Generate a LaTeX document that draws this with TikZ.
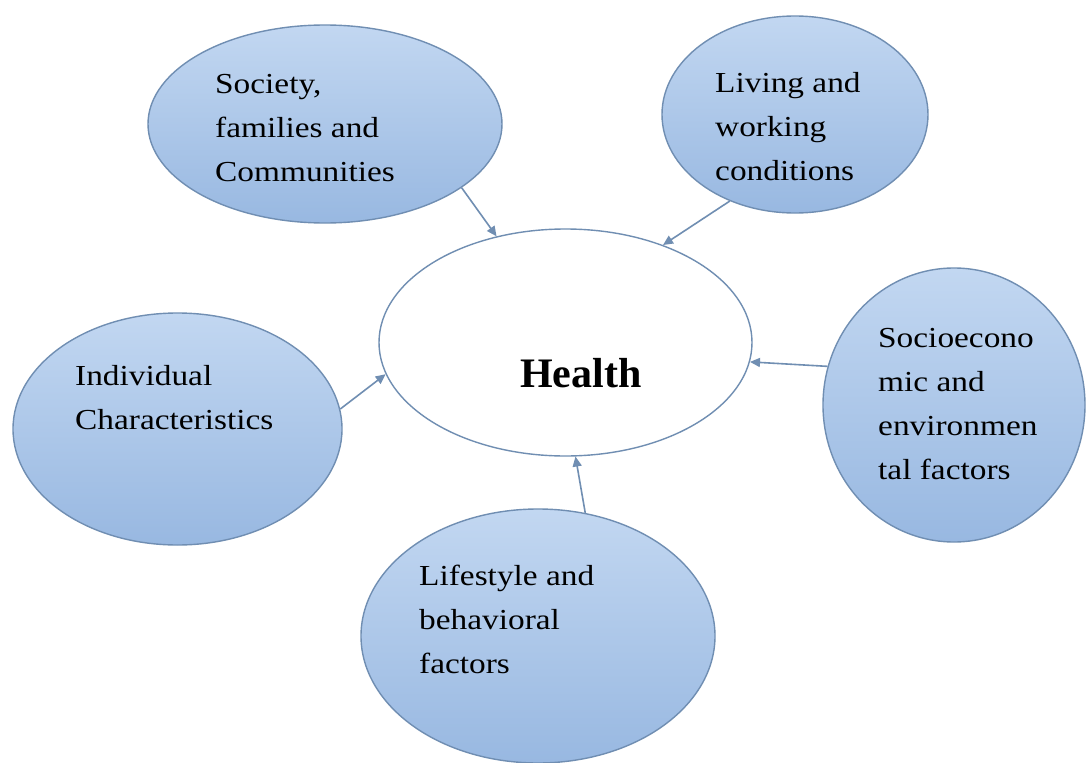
\documentclass[tikz,border=0pt]{standalone}
\usepackage{fontspec}
\setmainfont{Liberation Serif}
\newfontfamily\widefont[FakeStretch=1.15]{Liberation Serif}
\usetikzlibrary{shapes.geometric,arrows.meta}
\definecolor{edgeblue}{RGB}{112,142,178}
\definecolor{filltop}{RGB}{194,215,241}
\definecolor{fillbot}{RGB}{152,184,225}
\tikzset{
  bubble/.style={ellipse, draw=edgeblue, line width=1.4pt, top color=filltop, bottom color=fillbot, inner sep=0pt},
  hub/.style={ellipse, draw=edgeblue, line width=1.4pt, fill=white, inner sep=0pt},
  lbl/.style={anchor=base west, inner sep=0pt, font=\widefont\fontsize{29}{44}\selectfont},
  hublbl/.style={anchor=base west, inner sep=0pt, font=\bfseries\fontsize{42}{50}\selectfont},
  link/.style={draw=edgeblue, line width=1.6pt, -{Triangle[length=10pt,width=9pt]}},
}
\begin{document}
\begin{tikzpicture}[x=1pt,y=-1pt]
\useasboundingbox (0,0) rectangle (1088,763);
\fill[white] (0,0) rectangle (1088,763);

\node[bubble, minimum width=354pt, minimum height=198pt] (soc) at (325,124) {};
\node[bubble, minimum width=266pt, minimum height=197pt] (liv) at (795,114.5) {};
\node[hub,    minimum width=373pt, minimum height=227pt] (hea) at (565.5,342.5) {};
\node[bubble, minimum width=329pt, minimum height=232pt] (ind) at (177.5,429) {};
\node[bubble, minimum width=262pt, minimum height=274pt] (ses) at (954,405) {};
\node[bubble, minimum width=354pt, minimum height=254pt] (lif) at (538,636) {};

\node[lbl] (socT) at (215,93) {\vtop{\hbox{Society,}\hbox{families and}\hbox{Communities}}};
\node[lbl] (livT) at (715,92) {\vtop{\hbox{Living and}\hbox{working}\hbox{conditions}}};
\node[lbl] (indT) at (75,385) {\vtop{\hbox{Individual}\hbox{Characteristics}}};
\node[lbl] (sesT) at (878,347) {\vtop{\hbox{Socioecono}\hbox{mic and}\hbox{environmen}\hbox{tal factors}}};
\node[lbl] (lifT) at (419,585) {\vtop{\hbox{Lifestyle and}\hbox{behavioral}\hbox{factors}}};
\node[hublbl] (heaT) at (520,387) {Health};

\draw[link] (soc.-25) -- (hea.123.4);
\draw[link] (liv.-127.9) -- (hea.45.8);
\draw[link] (ind.7.6) -- (hea.190.5);
\draw[link] (ses.163.8) -- (hea.-6.1);
\draw[link] (lif.69.8) -- (hea.-85.2);
\end{tikzpicture}
\end{document}
